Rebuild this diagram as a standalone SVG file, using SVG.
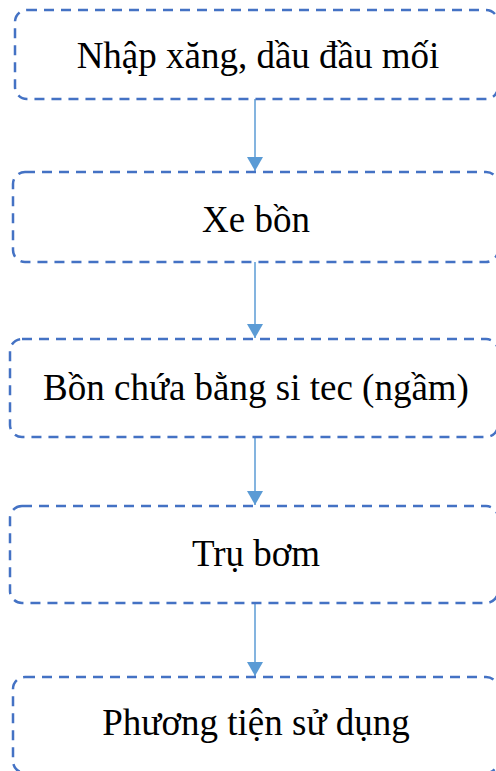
<svg xmlns="http://www.w3.org/2000/svg" width="496" height="771" viewBox="0 0 496 771">
  <defs>
    <style>
      .box { fill: #ffffff; stroke: #4472C4; stroke-width: 2.5; stroke-dasharray: 10 7; }
      .label { font-family: "Liberation Serif", "Times New Roman", serif; font-size: 37px; fill: #000000; text-anchor: middle; }
      .link { stroke: #5B9BD5; stroke-width: 1.5; fill: none; marker-end: url(#arrow); }
    </style>
    <!-- filled triangular arrowhead, tip at the end of the line -->
    <marker id="arrow" viewBox="0 0 14 16" markerWidth="14" markerHeight="16" refX="14" refY="8" orient="auto" markerUnits="userSpaceOnUse">
      <path d="M0,0 L14,8 L0,16 Z" fill="#5B9BD5"/>
    </marker>
  </defs>
  <rect width="496" height="771" fill="#ffffff"/>

  <g id="connectors">
    <line class="link" x1="255" y1="99" x2="255" y2="171"/>
    <line class="link" x1="255" y1="262" x2="255" y2="338"/>
    <line class="link" x1="255" y1="437" x2="255" y2="505"/>
    <line class="link" x1="255" y1="603" x2="255" y2="676"/>
  </g>

  <g id="node1">
    <rect class="box" x="15" y="10" width="483" height="89" rx="12"/>
    <text class="label" x="258" y="68">Nhập xăng, dầu đầu mối</text>
  </g>
  <g id="node2">
    <rect class="box" x="13" y="172" width="485" height="90" rx="12"/>
    <text class="label" x="256" y="232">Xe bồn</text>
  </g>
  <g id="node3">
    <rect class="box" x="10" y="339" width="488" height="98" rx="12"/>
    <text class="label" x="256" y="400">Bồn chứa bằng si tec (ngầm)</text>
  </g>
  <g id="node4">
    <rect class="box" x="10" y="506" width="488" height="97" rx="12"/>
    <text class="label" x="256" y="566">Trụ bơm</text>
  </g>
  <g id="node5">
    <rect class="box" x="13" y="677" width="485" height="96" rx="12"/>
    <text class="label" x="256" y="735">Phương tiện sử dụng</text>
  </g>
</svg>
